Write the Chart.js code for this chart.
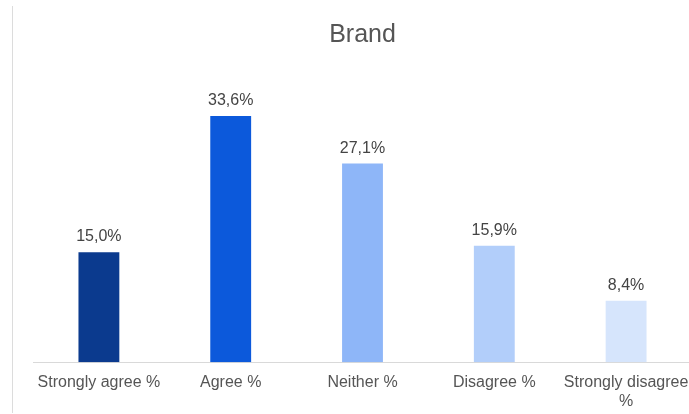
<!DOCTYPE html>
<html>
<head>
<meta charset="utf-8">
<title>Brand</title>
<script src="https://cdn.jsdelivr.net/npm/chart.js@4"></script>
<style>
    html, body {
        margin: 0;
        padding: 0;
        background: #fff;
        overflow: hidden;
    }
    .wrap {
        position: relative;
        width: 700px;
        height: 414px;
    }
    .edge {
        position: absolute;
        left: 12px;
        top: 6px;
        bottom: 1px;
        width: 1px;
        background: #dcdcdc;
    }
</style>
</head>
<body>
<div class="wrap">
    <div class="edge"></div>
    <canvas id="brandChart" width="700" height="414"></canvas>
</div>
<script>
const categories = ['Strongly agree %', 'Agree %', 'Neither %', 'Disagree %', ['Strongly disagree', '%']];
const shares = [15.0, 33.6, 27.1, 15.9, 8.4];
const barColors = ['#0b3a8e', '#0c59db', '#8eb6f8', '#b2cefa', '#d6e5fc'];

const fontFamily = '"Liberation Sans", Arial, sans-serif';

// Writes the percentage above each bar, decimal comma style
const valueLabels = {
    id: 'valueLabels',
    afterDatasetsDraw(chart) {
        const ctx = chart.ctx;
        const meta = chart.getDatasetMeta(0);
        ctx.save();
        ctx.font = '16px ' + fontFamily;
        ctx.fillStyle = '#444';
        ctx.textAlign = 'center';
        ctx.textBaseline = 'alphabetic';
        meta.data.forEach((bar, i) => {
            const text = shares[i].toFixed(1).replace('.', ',') + '%';
            ctx.fillText(text, bar.x, bar.y - 11);
        });
        ctx.restore();
    }
};

const ctx = document.getElementById('brandChart').getContext('2d');
new Chart(ctx, {
    type: 'bar',
    data: {
        labels: categories,
        datasets: [{
            data: shares,
            backgroundColor: barColors,
            borderWidth: 0,
            categoryPercentage: 1,
            barPercentage: 0.31
        }]
    },
    options: {
        responsive: false,
        animation: false,
        layout: {
            padding: { left: 33, right: 8, top: 0, bottom: 0 }
        },
        plugins: {
            legend: { display: false },
            tooltip: { enabled: false },
            title: {
                display: true,
                text: 'Brand',
                color: '#555',
                font: { family: fontFamily, size: 25, weight: 'normal' },
                padding: { top: 20, bottom: 19 }
            }
        },
        scales: {
            x: {
                grid: { display: false },
                border: { display: true, color: '#d9d9d9', width: 1 },
                ticks: {
                    color: '#555',
                    font: { family: fontFamily, size: 16, lineHeight: 1.15 },
                    padding: 3.5,
                    maxRotation: 0,
                    autoSkip: false
                }
            },
            y: {
                display: false,
                min: 0,
                max: 40
            }
        }
    },
    plugins: [valueLabels]
});
</script>
</body>
</html>
